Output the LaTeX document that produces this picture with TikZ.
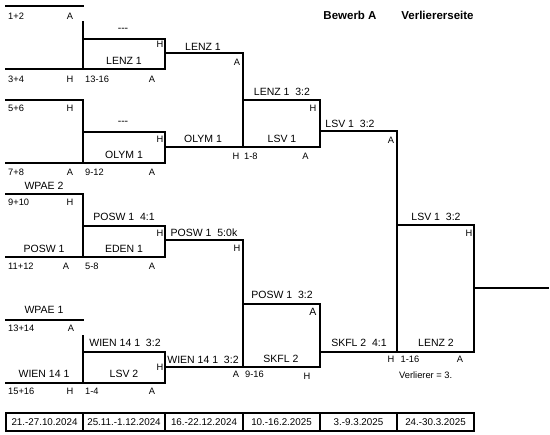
\documentclass[tikz,border=0pt]{standalone}
\usepackage{fontspec}
\setmainfont{Liberation Sans}

\begin{document}
\begin{tikzpicture}[x=1pt, y=-1pt,
    bline/.style={line width=2.6pt, line cap=rect, line join=miter},
    team/.style={font=\fontsize{10.5}{12}\selectfont, inner sep=0pt},
    lbl/.style={font=\fontsize{9.3}{11}\selectfont, inner sep=0pt},
    datum/.style={font=\fontsize{9.8}{11}\selectfont, inner sep=0pt},
    head/.style={font=\fontsize{11.5}{13}\selectfont\bfseries, inner sep=0pt}]
  \useasboundingbox (0,0) rectangle (550,435);
  % titel
  \node[head] (bewerb) at (350,15) {Bewerb A};
  \node[head] (seite) at (437.5,15) {Verliererseite};
  % runde 1: linien
  \draw[bline] (6,6) -- (83,6);
  \draw[bline] (83,22) -- (83,69);
  \draw[bline] (6,69) -- (165,69) -- (165,39) -- (83,39);
  \draw[bline] (6,100) -- (83,100) -- (83,163);
  \draw[bline] (6,163) -- (165,163) -- (165,132) -- (83,132);
  \draw[bline] (6,194) -- (83,194) -- (83,257);
  \draw[bline] (6,257) -- (165,257) -- (165,226) -- (83,226);
  \draw[bline] (6,320) -- (83,320);
  \draw[bline] (83,336) -- (83,383);
  \draw[bline] (6,383) -- (165,383) -- (165,352) -- (83,352);
  % runde 2 und 3: linien
  \draw[bline] (165,53) -- (243,53) -- (243,147);
  \draw[bline] (165,147) -- (320,147) -- (320,100) -- (243,100);
  \draw[bline] (165,240) -- (243,240) -- (243,367);
  \draw[bline] (165,367) -- (320,367) -- (320,304) -- (243,304);
  \draw[bline] (320,131) -- (397,131) -- (397,352);
  \draw[bline] (320,352) -- (474,352) -- (474,225) -- (397,225);
  \draw[bline] (474,288) -- (548,288);
  % paar 1
  \node[lbl, anchor=west] (t12) at (8,16) {1+2};
  \node[lbl] (t12a) at (70,16) {A};
  \node[team] (s1) at (123,30) {{-}{-}{-}};
  \node[lbl] (s1h) at (160,44) {H};
  \node[team] (s1b) at (124,61) {LENZ 1};
  \node[lbl, anchor=west] (t34) at (8,79) {3+4};
  \node[lbl] (t34h) at (70,79) {H};
  \node[lbl, anchor=west] (r1316) at (85,79) {13-16};
  \node[lbl] (r1316a) at (152,79) {A};
  % paar 2
  \node[lbl, anchor=west] (t56) at (8,108) {5+6};
  \node[lbl] (t56h) at (70,108) {H};
  \node[team] (s2) at (123,123) {{-}{-}{-}};
  \node[lbl] (s2h) at (160,139) {H};
  \node[team] (s2b) at (124,155) {OLYM 1};
  \node[lbl, anchor=west] (t78) at (8,172) {7+8};
  \node[lbl] (t78a) at (70,172) {A};
  \node[lbl, anchor=west] (r912) at (85,172) {9-12};
  \node[lbl] (r912a) at (152,172) {A};
  % paar 3
  \node[team] (w2) at (44,186) {WPAE 2};
  \node[lbl, anchor=west] (t910) at (8,202) {9+10};
  \node[lbl] (t910h) at (70,202) {H};
  \node[team] (s3) at (124,217) {POSW 1\ \ 4:1};
  \node[lbl] (s3h) at (160,233) {H};
  \node[team] (p1) at (44,248.5) {POSW 1};
  \node[team] (s3b) at (124,248.5) {EDEN 1};
  \node[lbl, anchor=west] (t1112) at (8,266) {11+12};
  \node[lbl] (t1112a) at (66,266) {A};
  \node[lbl, anchor=west] (r58) at (85,266) {5-8};
  \node[lbl] (r58a) at (152,266) {A};
  % paar 4
  \node[team] (w1) at (44,310) {WPAE 1};
  \node[lbl, anchor=west] (t1314) at (8,328) {13+14};
  \node[lbl] (t1314a) at (71,328) {A};
  \node[team] (s4) at (125,343) {WIEN 14 1\ \ 3:2};
  \node[lbl] (s4h) at (160,367) {H};
  \node[team] (wi) at (44,374) {WIEN 14 1};
  \node[team] (s4b) at (124,374) {LSV 2};
  \node[lbl, anchor=west] (t1516) at (8,391) {15+16};
  \node[lbl] (t1516h) at (70,391) {H};
  \node[lbl, anchor=west] (r14) at (85,391) {1-4};
  \node[lbl] (r14a) at (152,391) {A};
  % runde 2: texte
  \node[team] (u1) at (203,46.5) {LENZ 1};
  \node[lbl] (u1a) at (237,62) {A};
  \node[team] (u2) at (203,138.5) {OLYM 1};
  \node[lbl] (u2h) at (236,156) {H};
  \node[lbl, anchor=west] (r18) at (244,156) {1-8};
  \node[team] (u3) at (204,233) {POSW 1\ \ 5:0k};
  \node[lbl] (u3h) at (237,248) {H};
  \node[team] (u4) at (203,360) {WIEN 14 1\ \ 3:2};
  \node[lbl] (u4a) at (236,374.5) {A};
  \node[lbl, anchor=west] (r916) at (245,374.5) {9-16};
  % runde 3: texte
  \node[team] (v1) at (282,92) {LENZ 1\ \ 3:2};
  \node[lbl] (v1h) at (313,108.5) {H};
  \node[team] (v1b) at (282,138.5) {LSV 1};
  \node[lbl] (v1a) at (305.5,156) {A};
  \node[team] (v2) at (282,295) {POSW 1\ \ 3:2};
  \node[team] (v2a) at (313,311.5) {A};
  \node[team] (v2b) at (281,359) {SKFL 2};
  \node[lbl] (v2h) at (307,376) {H};
  % runde 4 und 5: texte
  \node[team] (x1) at (350,124) {LSV 1\ \ 3:2};
  \node[lbl] (x1a) at (391,140) {A};
  \node[team] (x2) at (359,343) {SKFL 2\ \ 4:1};
  \node[lbl] (x2h) at (391,359) {H};
  \node[lbl, anchor=west] (r116) at (400.5,359) {1-16};
  \node[lbl] (x2a) at (460,359) {A};
  \node[lbl, anchor=west] (verl) at (399,375) {Verlierer = 3.};
  \node[team] (y1) at (436,217) {LSV 1\ \ 3:2};
  \node[lbl] (y1h) at (469,233) {H};
  \node[team] (y1b) at (436,343) {LENZ 2};
  % termine
  \foreach \xa/\xb/\txt [count=\i] in {6/83/21.-27.10.2024, 83/165/25.11.-1.12.2024,
      165/243/16.-22.12.2024, 243/320/10.-16.2.2025, 320/397/3.-9.3.2025,
      397/474/24.-30.3.2025}
  {
    \draw[bline] (\xa,413) rectangle (\xb,431);
    \node[datum] (d\i) at ({(\xa+\xb)/2},422) {\txt};
  }
\end{tikzpicture}
\end{document}
